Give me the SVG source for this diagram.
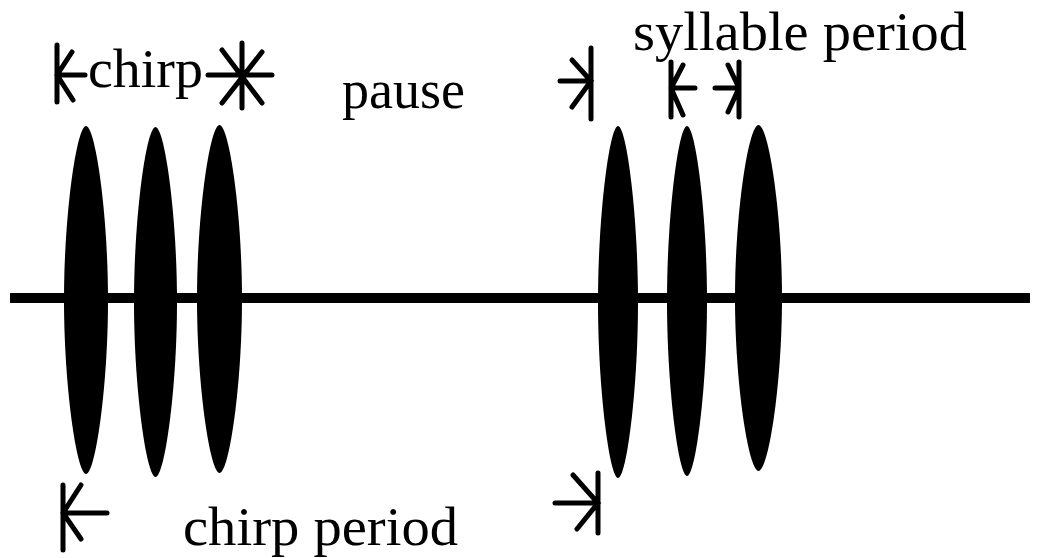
<svg xmlns="http://www.w3.org/2000/svg" width="1037" height="558" viewBox="0 0 1037 558">
  <style>
    .lbl { font-family: "Liberation Serif", "Times New Roman", serif; font-size: 55px; fill: #000; }
    .mk { stroke: #000; stroke-width: 5; stroke-linecap: round; fill: none; }
    .pulse { fill: #000; }
  </style>
  <defs>
    <!-- unit lens-shaped pulse: rx=1, ry=1, centred at origin -->
    <path id="lens" d="M0 -1 C0.42 -1 1 -0.5 1 0 C1 0.5 0.42 1 0 1 C-0.42 1 -1 0.5 -1 0 C-1 -0.5 -0.42 -1 0 -1 Z"/>
  </defs>
  <rect width="1037" height="558" fill="#fff"/>
  <g id="axis">
    <line x1="10" y1="298" x2="1030" y2="298" stroke="#000" stroke-width="10"/>
  </g>
  <g id="pulses" class="pulse">
    <use id="p1" href="#lens" transform="translate(86 300) scale(22 174)"/>
    <use id="p2" href="#lens" transform="translate(155.5 302) scale(21.5 175)"/>
    <use id="p3" href="#lens" transform="translate(219.5 299) scale(22.5 174)"/>
    <use id="p4" href="#lens" transform="translate(618 302) scale(20 176)"/>
    <use id="p5" href="#lens" transform="translate(687 301) scale(20 175)"/>
    <use id="p6" href="#lens" transform="translate(758.5 298) scale(23.5 173)"/>
  </g>
  <g id="connectors">
    <path class="mk" d="M57 45 V102 M57 75 H85 M72 52 L57 75 L73 100"/>
    <path class="mk" d="M208 75 H272 M242 43 V108 M222 50 L262 103 M262 52 L222 103"/>
    <path class="mk" d="M560 81 H591 M591 48 V119 M572 60 L591 81 L572 107"/>
    <path class="mk" d="M671 62 V117 M671 88 H695 M683 65 L671 88 L683 115"/>
    <path class="mk" d="M715 88 H739 M739 62 V117 M728 65 L739 88 L728 112"/>
    <path class="mk" d="M63 485 V550 M63 513 H107 M81 485 L63 513 L81 539"/>
    <path class="mk" d="M555 503 H598 M598 473 V533 M573 475 L598 503 L577 529"/>
  </g>
  <g id="labels">
    <text id="t-chirp" class="lbl" x="88" y="87" textLength="115" lengthAdjust="spacingAndGlyphs">chirp</text>
    <text id="t-pause" class="lbl" x="342" y="108" textLength="123" lengthAdjust="spacingAndGlyphs">pause</text>
    <text id="t-syll" class="lbl" x="633" y="50" textLength="334" lengthAdjust="spacingAndGlyphs">syllable period</text>
    <text id="t-cp" class="lbl" x="183" y="545" textLength="275" lengthAdjust="spacingAndGlyphs">chirp period</text>
  </g>
</svg>
